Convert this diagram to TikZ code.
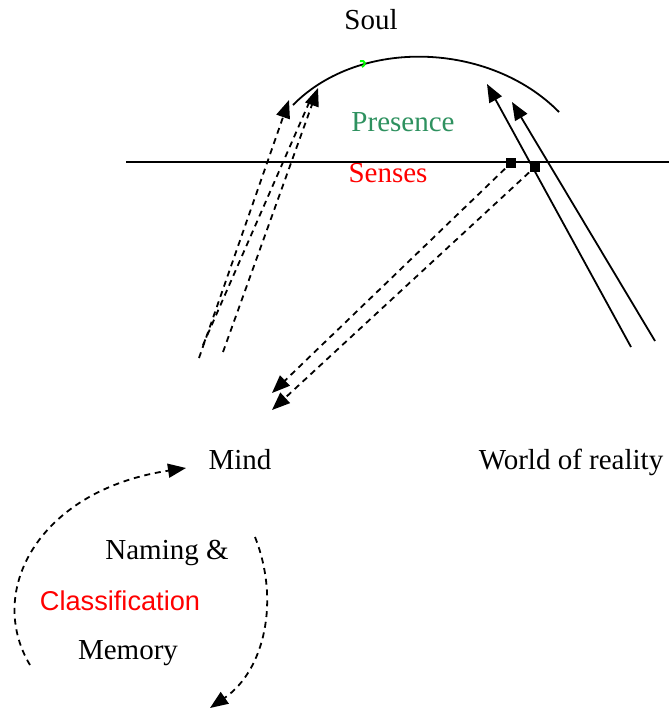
\documentclass[tikz,border=0pt]{standalone}
\usepackage{fontspec}
\setmainfont{Liberation Serif}
\newfontfamily\clsfont{Liberation Sans}
\usetikzlibrary{arrows.meta}
\definecolor{presgreen}{RGB}{46,145,95}
\begin{document}
\begin{tikzpicture}[x=0.5pt, y=-0.5pt, line width=0.9pt,
  >={Triangle[length=9pt,width=7pt]},
  every node/.style={font=\fontsize{14.5pt}{17pt}\selectfont, inner sep=0pt},
  dline/.style={dash pattern=on 3pt off 2.4pt},
  sqbox/.style={fill, minimum size=5pt, inner sep=0pt}]
  \useasboundingbox (0,0) rectangle (669,713);

  % ================= 文字 =================
  \node (soul) at (371,20) {Soul};
  \node[text=presgreen] (presence) at (403,122) {Presence};
  \node[text=red] (senses) at (388,173) {Senses};
  \node (mind) at (240,460) {Mind};
  \node (world) at (571,462) {World of reality};
  \node (naming) at (167,553) {Naming \&};
  \node[text=red, font=\clsfont\fontsize{13.6pt}{16pt}\selectfont] (classif) at (120,601) {Classification};
  \node (memory) at (128,653) {Memory};

  % ================= 弧线与分界线 =================
  \draw (293,105) .. controls (360,37) and (490,42) .. (559,112);
  \draw[green, line width=1pt] (360,61) .. controls (366,60) and (366,65) .. (362,67);
  \draw (126,162) -- (669,162);

  % 方块
  \node[sqbox] (sq1) at (511,163) {};
  \node[sqbox] (sq2) at (535,167) {};

  % ================= 端点 =================
  \coordinate (a1) at (199,358);  \coordinate (a2) at (289,100);
  \coordinate (b1) at (203,345);  \coordinate (b2) at (312,96);
  \coordinate (c1) at (223,352);  \coordinate (c2) at (318,88);
  \coordinate (m1) at (272,393);  \coordinate (m2) at (272,410);
  \coordinate (w1) at (631,347);  \coordinate (w2) at (487,84);
  \coordinate (v1) at (655,341);  \coordinate (v2) at (512,102);

  % 向上的虚线箭头
  \draw[dline, ->] (a1) -- (a2);
  \draw[dline] (b1) -- (b2);
  \draw[dline, ->] (c1) -- (c2);

  % 从方块到 Mind
  \draw[dline, ->] (sq1) -- (m1);
  \draw[dline, ->] (sq2) -- (m2);

  % 实线箭头（现实世界）
  \draw[->] (w1) -- (w2);
  \draw[->] (v1) -- (v2);

  % ================= 下方循环 =================
  \coordinate (l1) at (30,665);   \coordinate (l2) at (186,468);
  \coordinate (r1) at (255,537);  \coordinate (r2) at (210,708);
  \draw[dline, ->] (l1) .. controls (-15,590) and (40,490) .. (l2);
  \draw[dline, ->] (r1) .. controls (280,600) and (265,670) .. (r2);
\end{tikzpicture}
\end{document}
